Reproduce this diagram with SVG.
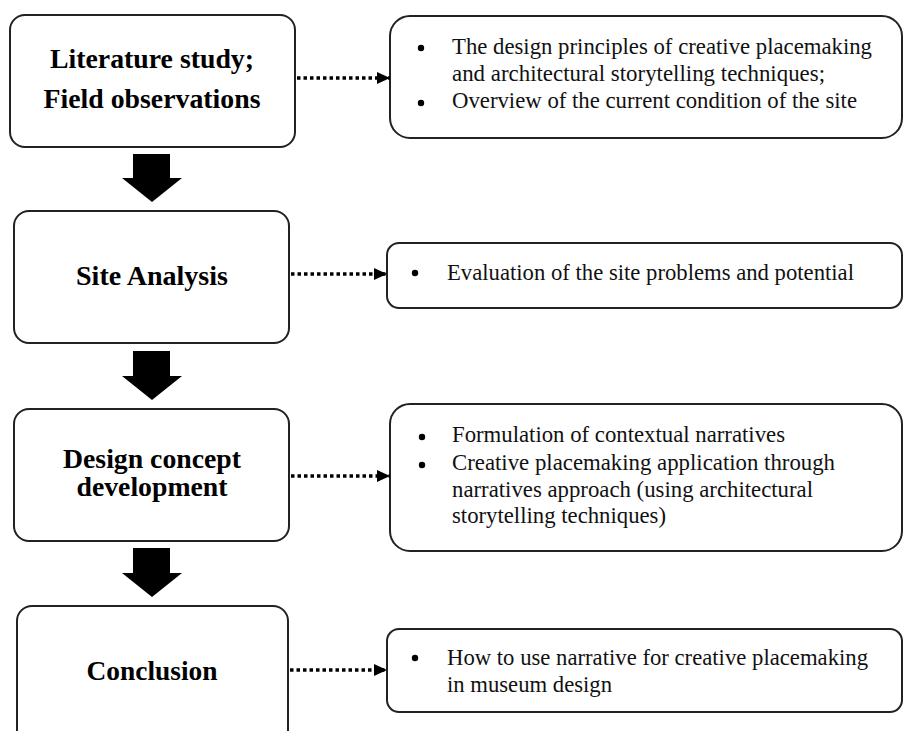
<svg xmlns="http://www.w3.org/2000/svg" width="904" height="731" viewBox="0 0 904 731">
<style>
.box{fill:#fff;stroke:#222;stroke-width:2}
.t{font-family:"Liberation Serif","Times New Roman",Tinos,Times,serif;font-weight:bold;font-size:27px;fill:#000;text-anchor:middle}
.r{font-family:"Liberation Serif","Times New Roman",Tinos,Times,serif;font-size:22.5px;fill:#111}
.dot{stroke:#000;stroke-width:3.5;stroke-dasharray:3.5 3;fill:none}
.big{fill:#000}
</style>
<defs>
<marker id="ah" viewBox="0 0 13 12" refX="13" refY="6" markerWidth="13" markerHeight="12" markerUnits="userSpaceOnUse" orient="auto">
<path d="M0,0 L13,6 L0,12 Z" fill="#000"/>
</marker>
</defs>
<rect width="904" height="731" fill="#fff"/>
<g id="n1">
<rect class="box" x="10" y="15" width="285" height="132" rx="15"/>
<text class="t" x="152" y="68" textLength="204" lengthAdjust="spacingAndGlyphs">Literature study;</text>
<text class="t" x="152" y="108" textLength="217" lengthAdjust="spacingAndGlyphs">Field observations</text>
</g>
<g id="n2">
<rect class="box" x="14" y="211" width="275" height="132" rx="15"/>
<text class="t" x="152" y="285" textLength="152" lengthAdjust="spacingAndGlyphs">Site Analysis</text>
</g>
<g id="n3">
<rect class="box" x="14" y="409" width="275" height="132" rx="15"/>
<text class="t" x="152" y="468" textLength="178" lengthAdjust="spacingAndGlyphs">Design concept</text>
<text class="t" x="152" y="496" textLength="151" lengthAdjust="spacingAndGlyphs">development</text>
</g>
<g id="n4">
<rect class="box" x="17" y="606" width="271" height="140" rx="15"/>
<text class="t" x="152" y="680" textLength="131" lengthAdjust="spacingAndGlyphs">Conclusion</text>
</g>
<g id="r1">
<rect class="box" x="390" y="16" width="512" height="122" rx="20"/>
<circle cx="421" cy="48" r="3.2"/>
<circle cx="421" cy="103" r="3.2"/>
<text class="r" x="452" y="54" textLength="420" lengthAdjust="spacingAndGlyphs">The design principles of creative placemaking</text>
<text class="r" x="452" y="81" textLength="373" lengthAdjust="spacingAndGlyphs">and architectural storytelling techniques;</text>
<text class="r" x="452" y="108" textLength="405" lengthAdjust="spacingAndGlyphs">Overview of the current condition of the site</text>
</g>
<g id="r2">
<rect class="box" x="387" y="243" width="515" height="65" rx="12"/>
<circle cx="415" cy="273" r="3.2"/>
<text class="r" x="447" y="280" textLength="407" lengthAdjust="spacingAndGlyphs">Evaluation of the site problems and potential</text>
</g>
<g id="r3">
<rect class="box" x="390" y="404" width="512" height="147" rx="20"/>
<circle cx="422" cy="437" r="3.2"/>
<circle cx="422" cy="465" r="3.2"/>
<text class="r" x="452" y="442" textLength="333" lengthAdjust="spacingAndGlyphs">Formulation of contextual narratives</text>
<text class="r" x="452" y="470" textLength="383" lengthAdjust="spacingAndGlyphs">Creative placemaking application through</text>
<text class="r" x="452" y="497" textLength="361" lengthAdjust="spacingAndGlyphs">narratives approach (using architectural</text>
<text class="r" x="452" y="523" textLength="214" lengthAdjust="spacingAndGlyphs">storytelling techniques)</text>
</g>
<g id="r4">
<rect class="box" x="387" y="629" width="515" height="83" rx="12"/>
<circle cx="415" cy="658" r="3.2"/>
<text class="r" x="447" y="665" textLength="421" lengthAdjust="spacingAndGlyphs">How to use narrative for creative placemaking</text>
<text class="r" x="447" y="692" textLength="165" lengthAdjust="spacingAndGlyphs">in museum design</text>
</g>
<g id="connectors">
<line class="dot" x1="297" y1="78" x2="390" y2="78" marker-end="url(#ah)"/>
<line class="dot" x1="291" y1="274" x2="387" y2="274" marker-end="url(#ah)"/>
<line class="dot" x1="291" y1="476" x2="390" y2="476" marker-end="url(#ah)"/>
<line class="dot" x1="290" y1="670" x2="387" y2="670" marker-end="url(#ah)"/>
<path class="big" d="M133,154 H170 V178 H182 L152,202 L122,178 H133 Z"/>
<path class="big" d="M133,351 H170 V376 H182 L152,400 L122,376 H133 Z"/>
<path class="big" d="M133,548 H170 V573 H182 L152,597 L122,573 H133 Z"/>
</g>
</svg>
